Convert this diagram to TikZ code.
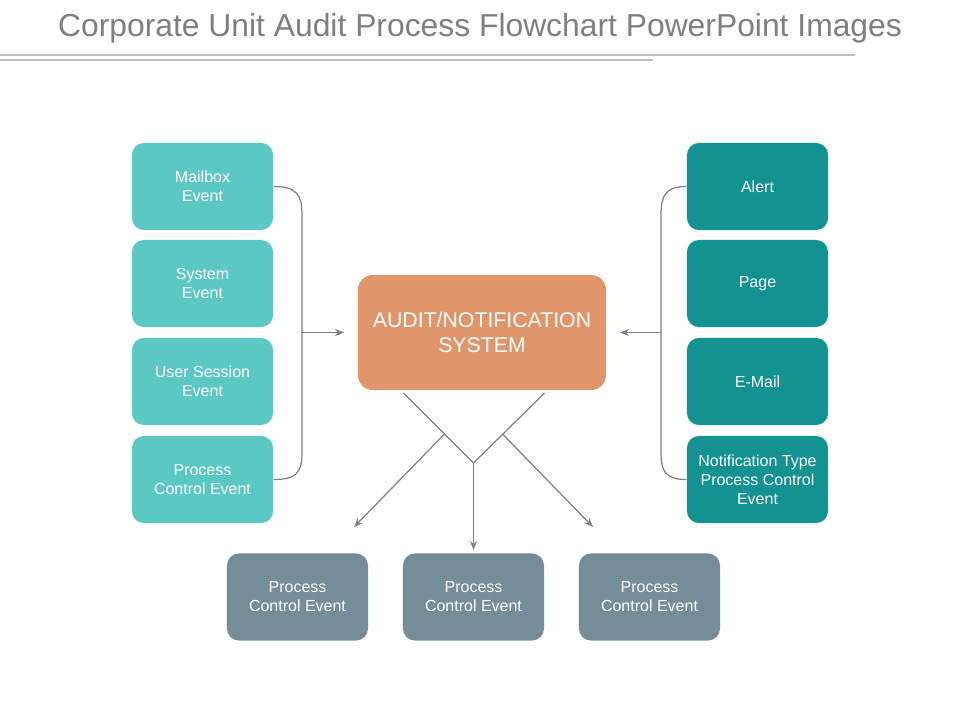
\documentclass[tikz,border=0pt]{standalone}
\usepackage{fontspec}
\setmainfont{Liberation Sans}
\usetikzlibrary{arrows.meta}
\definecolor{titlegray}{HTML}{7F7F7F}
\definecolor{rulegray}{HTML}{BFBFBF}
\definecolor{lightteal}{HTML}{5BC8C3}
\definecolor{darkteal}{HTML}{129290}
\definecolor{orangebox}{HTML}{E0966A}
\definecolor{slatebox}{HTML}{748D99}
\definecolor{linkgray}{HTML}{808080}
\tikzset{
  boxbase/.style={rounded corners=0.12cm, minimum width=1.41cm, minimum height=0.87cm,
    inner sep=0pt, text=white, align=center, font=\fontsize{4.55pt}{5.4pt}\selectfont},
  leftbox/.style={boxbase, fill=lightteal},
  rightbox/.style={boxbase, fill=darkteal},
  bottombox/.style={boxbase, fill=slatebox},
  centerbox/.style={rounded corners=0.15cm, minimum width=2.48cm, minimum height=1.15cm,
    inner sep=0pt, text=white, align=center, fill=orangebox, font=\fontsize{6.05pt}{7.1pt}\selectfont},
  link/.style={draw=linkgray, line width=0.35pt},
  linkarrow/.style={link, -{Stealth[length=0.09cm, width=0.07cm]}},
}
\begin{document}
\begin{tikzpicture}[x=0.01cm, y=-0.01cm]
\useasboundingbox (0,0) rectangle (960,720);
\node[text=titlegray, font=\fontsize{9.05pt}{10pt}\selectfont] (title) at (480,28) {Corporate Unit Audit Process Flowchart PowerPoint Images};
\draw[rulegray, line width=0.3pt] (0,55) -- (855,55);
\draw[rulegray, line width=0.3pt] (0,60) -- (653,60);

\node[leftbox] (l1) at (202.5,186.5) {Mailbox\\Event};
\node[leftbox] (l2) at (202.5,283.5) {System\\Event};
\node[leftbox] (l3) at (202.5,381.5) {User Session\\Event};
\node[leftbox] (l4) at (202.5,479.5) {Process\\Control Event};

\node[rightbox] (r1) at (757.5,186.5) {Alert};
\node[rightbox] (r2) at (757.5,283.5) {Page};
\node[rightbox] (r3) at (757.5,381.5) {E-Mail};
\node[rightbox] (r4) at (757.5,479.5) {Notification Type\\Process Control\\Event};

\node[centerbox] (c) at (482,332.5) {AUDIT/NOTIFICATION\\SYSTEM};

\node[bottombox] (b1) at (297.5,597) {Process\\Control Event};
\node[bottombox] (b2) at (473.5,597) {Process\\Control Event};
\node[bottombox] (b3) at (649.5,597) {Process\\Control Event};

% left bracket
\draw[link] (l1.east) .. controls (297,186.5) and (302,195) .. (302,215)
  -- (302,452) .. controls (302,472) and (297,479.5) .. (l4.east);
\coordinate (lb) at (302,332.5);
\draw[linkarrow] (lb) -- (c.west -| 344,0);

% right bracket
\draw[link] (r1.west) .. controls (666,186.5) and (661,195) .. (661,215)
  -- (661,452) .. controls (661,472) and (666,479.5) .. (r4.west);
\coordinate (rb) at (661,332.5);
\draw[linkarrow] (rb) -- (c.east -| 620,0);

% bottom V
\coordinate (vl) at (403.5,393);
\coordinate (vr) at (544.5,393);
\coordinate (vj) at (473.5,463);
\coordinate (bl) at (444.5,434);
\coordinate (br) at (502.5,434);
\draw[link] (vl) -- (vj) -- (vr);
\draw[linkarrow] (vj) -- (b2.north |- 0,550);
\draw[linkarrow] (bl) -- (354,527);
\draw[linkarrow] (br) -- (593,527);
\end{tikzpicture}
\end{document}
